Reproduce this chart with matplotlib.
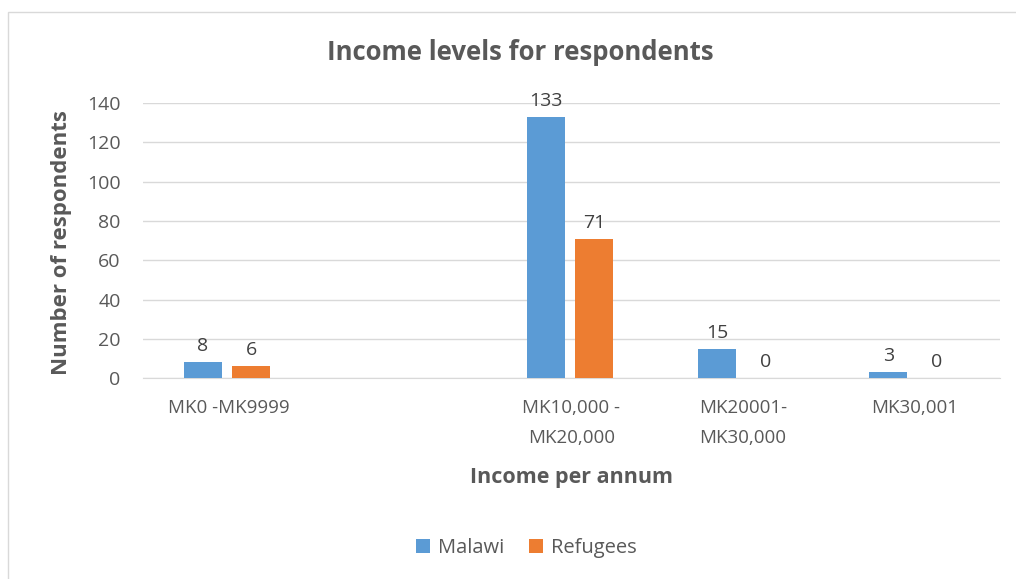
import numpy as np
import matplotlib

matplotlib.use("Agg")
import matplotlib.pyplot as plt
from matplotlib.patches import Rectangle

categories = ["MK0 -MK9999", "", "MK10,000 -\nMK20,000", "MK20001-\nMK30,000", "MK30,001"]
malawi = [8, None, 133, 15, 3]
refugees = [6, None, 71, 0, 0]
series_names = ["Malawi", "Refugees"]
colors = ["#5B9BD5", "#ED7D31"]
yticks = [0, 20, 40, 60, 80, 100, 120, 140]

plt.rcParams["font.family"] = ["Open Sans", "DejaVu Sans"]
text_color = "#595959"

fig = plt.figure(figsize=(10.16, 5.79), dpi=100)
ax = fig.add_axes([0.1407, 0.347, 0.8435, 0.475])

# chart frame
fig.patches.append(Rectangle((0.008, -0.01), 1.2, 0.99, transform=fig.transFigure,
                             fill=False, edgecolor="#D9D9D9", linewidth=1.0))

x = np.arange(len(categories))
width = 0.222
gap = 0.06
for i, (vals, name, color) in enumerate(zip([malawi, refugees], series_names, colors)):
    offset = (i - 0.5) * (width + gap) - 0.01
    xs = [xi + offset for xi, v in zip(x, vals) if v is not None]
    vs = [v for v in vals if v is not None]
    ax.bar(xs, vs, width=width, color=color, label=name, zorder=3)
    for bx, v in zip(xs, vs):
        ax.annotate(str(v), (bx, v), xytext=(0, 5), textcoords="offset points",
                    ha="center", va="bottom", fontsize=14, color="#404040")

ax.set_xlim(-0.5, len(categories) - 0.5)
ax.set_ylim(0, 140)
ax.set_yticks(yticks)
ax.set_xticks(x)
ax.set_xticklabels(categories, fontsize=13.5, color=text_color, linespacing=1.85)
ax.tick_params(axis="y", labelsize=14, labelcolor=text_color, length=0, pad=16)
ax.tick_params(axis="x", length=0, pad=15)
ax.grid(axis="y", color="#D9D9D9", linewidth=1.0, zorder=0)
for s in ["top", "right", "left"]:
    ax.spines[s].set_visible(False)
ax.spines["bottom"].set_color("#D9D9D9")
ax.set_axisbelow(True)

fig.text(520 / 1016, 1 - 52 / 579, "Income levels for respondents", fontsize=18.5,
         fontweight="bold", color=text_color, ha="center", va="center")
fig.text(572 / 1016, 1 - 478 / 579, "Income per annum", fontsize=15.5,
         fontweight="bold", color=text_color, ha="center", va="center")
fig.text(62 / 1016, 1 - 243 / 579, "Number of respondents", fontsize=16,
         fontweight="bold", color=text_color, ha="center", va="center", rotation=90)

fig.legend(loc="center", bbox_to_anchor=(0.518, 0.054), ncol=2, frameon=False,
           fontsize=14.5, handlelength=0.7, handleheight=0.7, columnspacing=1.2,
           handletextpad=0.4, labelcolor=text_color)

fig.savefig("out.png", dpi=100)
